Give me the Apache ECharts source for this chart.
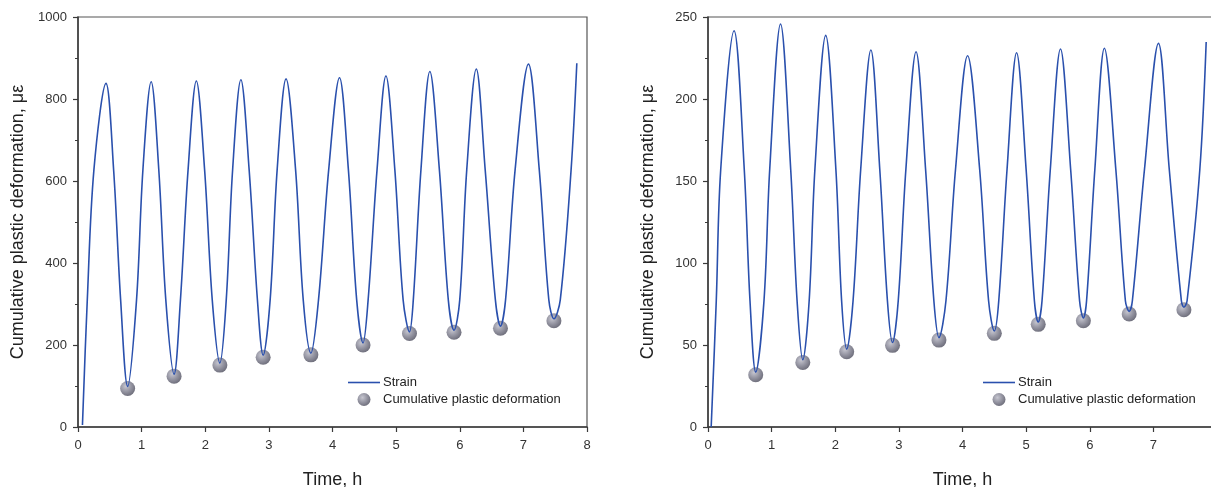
<!DOCTYPE html>
<html>
<head>
<meta charset="utf-8">
<script src="https://cdn.jsdelivr.net/npm/echarts@6/dist/echarts.min.js"></script>
<style>
html,body{margin:0;padding:0;background:#fff;}
#chart{width:1211px;height:487px;}
</style>
</head>
<body>
<div id="chart"></div>
<script>
// ---- Left panel data ----
const leftStrainTime = [0.07,0.146,0.25,0.44,0.56,0.67,0.78,0.92,1.02,1.15,1.27,1.38,1.51,1.61,1.73,1.86,1.99,2.11,2.23,2.33,2.43,2.56,2.69,2.82,2.91,3.02,3.13,3.27,3.42,3.54,3.66,3.78,3.94,4.11,4.25,4.38,4.48,4.56,4.70,4.84,4.98,5.11,5.21,5.27,5.39,5.53,5.68,5.82,5.91,6.00,6.11,6.26,6.40,6.56,6.64,6.72,6.87,7.08,7.25,7.40,7.48,7.58,7.75,7.84];
const leftStrainValue = [5,310,627,838,627,310,99,310,627,842,627,310,129,310,627,844,627,310,156,310,627,847,627,310,175,310,627,849,627,310,180,310,627,852,627,310,205,310,627,856,627,310,232,310,627,867,627,310,236,310,627,873,627,310,246,310,627,885,627,310,264,310,627,887];
const leftPlasticTime = [0.78,1.51,2.23,2.91,3.66,4.48,5.21,5.91,6.64,7.48];
const leftPlasticValue = [94,124,151,170,176,200,228,231,241,259];

// ---- Right panel data ----
const rightStrainTime = [0.05,0.13,0.20,0.41,0.57,0.66,0.75,0.88,0.97,1.14,1.30,1.40,1.49,1.59,1.68,1.85,2.01,2.10,2.18,2.28,2.40,2.56,2.70,2.82,2.90,2.99,3.11,3.27,3.42,3.55,3.63,3.74,3.89,4.08,4.27,4.41,4.50,4.57,4.70,4.85,5.00,5.13,5.19,5.25,5.38,5.54,5.70,5.84,5.90,5.95,6.08,6.23,6.41,6.56,6.62,6.67,6.86,7.08,7.25,7.44,7.48,7.53,7.73,7.83];
const rightStrainValue = [0,77,157,241.6,157,77,33.5,77,157,245.7,157,77,41,77,157,238.8,157,77,47.5,77,157,229.9,157,77,51.5,77,157,228.8,157,77,54.5,77,157,226.4,157,77,58.5,77,157,228.2,157,77,64,77,157,230.5,157,77,66.5,77,157,230.9,157,77,70.5,77,157,233.9,157,77,73,77,157,234.8];
const rightPlasticTime = [0.75,1.49,2.18,2.90,3.63,4.50,5.19,5.90,6.62,7.48];
const rightPlasticValue = [31.9,39.4,45.9,49.8,53.0,57.1,62.6,64.8,68.9,71.5];

// ---- Axis settings / labels ----
const xTicks = [0,1,2,3,4,5,6,7,8];
const leftYTicks = [0,200,400,600,800,1000];
const rightYTicks = [0,50,100,150,200,250];
const xTitle = 'Time, h';
const yTitle = 'Cumulative plastic deformation, \u03bc\u03b5';
const strainName = 'Strain';
const plasticName = 'Cumulative plastic deformation';

function pairs(t, v){ return t.map((x,i)=>[x, v[i]]); }

const FONT = '"Liberation Sans", Arial, sans-serif';
const AXIS_COLOR = '#3a3a3a';
const LINE_COLOR = '#2a50ad';
const markerFill = {
  type: 'radial', x: 0.38, y: 0.35, r: 0.65,
  colorStops: [
    {offset: 0, color: '#c6c6d0'},
    {offset: 0.6, color: '#92929f'},
    {offset: 1, color: '#72727f'}
  ]
};

function xAxisCfg(gridIndex){
  return {
    type: 'value', gridIndex: gridIndex, min: xTicks[0], max: xTicks[xTicks.length-1], interval: 1,
    name: xTitle, nameLocation: 'middle', nameGap: 44,
    nameTextStyle: {fontFamily: FONT, fontSize: 18, color: '#222'},
    axisLine: {show: true, onZero: false, lineStyle: {color: AXIS_COLOR, width: 1.5}},
    axisTick: {show: true, inside: false, length: 5, lineStyle: {color: AXIS_COLOR, width: 1.2}},
    axisLabel: {fontFamily: FONT, fontSize: 13, color: '#333', margin: 12, formatter: v => String(v)},
    splitLine: {show: false}
  };
}
function yAxisCfg(gridIndex, ticks){
  return {
    type: 'value', gridIndex: gridIndex, min: ticks[0], max: ticks[ticks.length-1], interval: ticks[1]-ticks[0],
    name: yTitle, nameLocation: 'middle', nameGap: 51,
    nameTextStyle: {fontFamily: FONT, fontSize: 18, color: '#222'},
    axisLine: {show: true, onZero: false, lineStyle: {color: AXIS_COLOR, width: 1.5}},
    axisTick: {show: true, inside: false, length: 5, lineStyle: {color: AXIS_COLOR, width: 1.2}},
    minorTick: {show: true, splitNumber: 2, length: 3, lineStyle: {color: AXIS_COLOR, width: 1}},
    axisLabel: {fontFamily: FONT, fontSize: 13, color: '#333', margin: 11, formatter: v => String(v)},
    splitLine: {show: false}, minorSplitLine: {show: false}
  };
}
function strainSeries(idx, t, v){
  return {
    name: strainName, type: 'line', xAxisIndex: idx, yAxisIndex: idx,
    data: pairs(t, v), smooth: 0.35, symbol: 'none', showSymbol: false,
    lineStyle: {color: LINE_COLOR, width: 1.6}, itemStyle: {color: LINE_COLOR},
    z: 3, animation: false
  };
}
function plasticSeries(idx, t, v){
  return {
    name: plasticName, type: 'scatter', xAxisIndex: idx, yAxisIndex: idx,
    data: pairs(t, v), symbol: 'circle', symbolSize: 15,
    itemStyle: {color: markerFill, opacity: 1},
    z: 2, animation: false
  };
}
function legendCfg(left){
  return {
    left: left, top: 371, orient: 'vertical', itemWidth: 32, itemHeight: 13, itemGap: 4,
    symbolKeepAspect: true,
    textStyle: {fontFamily: FONT, fontSize: 13, color: '#222', padding: [0,0,0,-2]},
    data: [
      {name: strainName, icon: 'path://M0,0 L32,0 L32,1.6 L0,1.6 Z', itemStyle: {color: LINE_COLOR}},
      {name: plasticName, icon: 'circle'}
    ],
    selectedMode: false
  };
}

const chart = echarts.init(document.getElementById('chart'), null, {renderer: 'canvas'});
chart.setOption({
  backgroundColor: '#ffffff',
  animation: false,
  grid: [
    {left: 78, top: 17, width: 509, height: 410, show: true, borderColor: '#555', borderWidth: 1.2, backgroundColor: 'transparent', outerBoundsMode: 'none', containLabel: false},
    {left: 708, top: 17, width: 509, height: 410, show: true, borderColor: '#555', borderWidth: 1.2, backgroundColor: 'transparent', outerBoundsMode: 'none', containLabel: false}
  ],
  xAxis: [xAxisCfg(0), xAxisCfg(1)],
  yAxis: [yAxisCfg(0, leftYTicks), yAxisCfg(1, rightYTicks)],
  legend: [legendCfg(343), legendCfg(978)],
  series: [
    plasticSeries(0, leftPlasticTime, leftPlasticValue),
    strainSeries(0, leftStrainTime, leftStrainValue),
    plasticSeries(1, rightPlasticTime, rightPlasticValue),
    strainSeries(1, rightStrainTime, rightStrainValue)
  ]
});
</script>
</body>
</html>
